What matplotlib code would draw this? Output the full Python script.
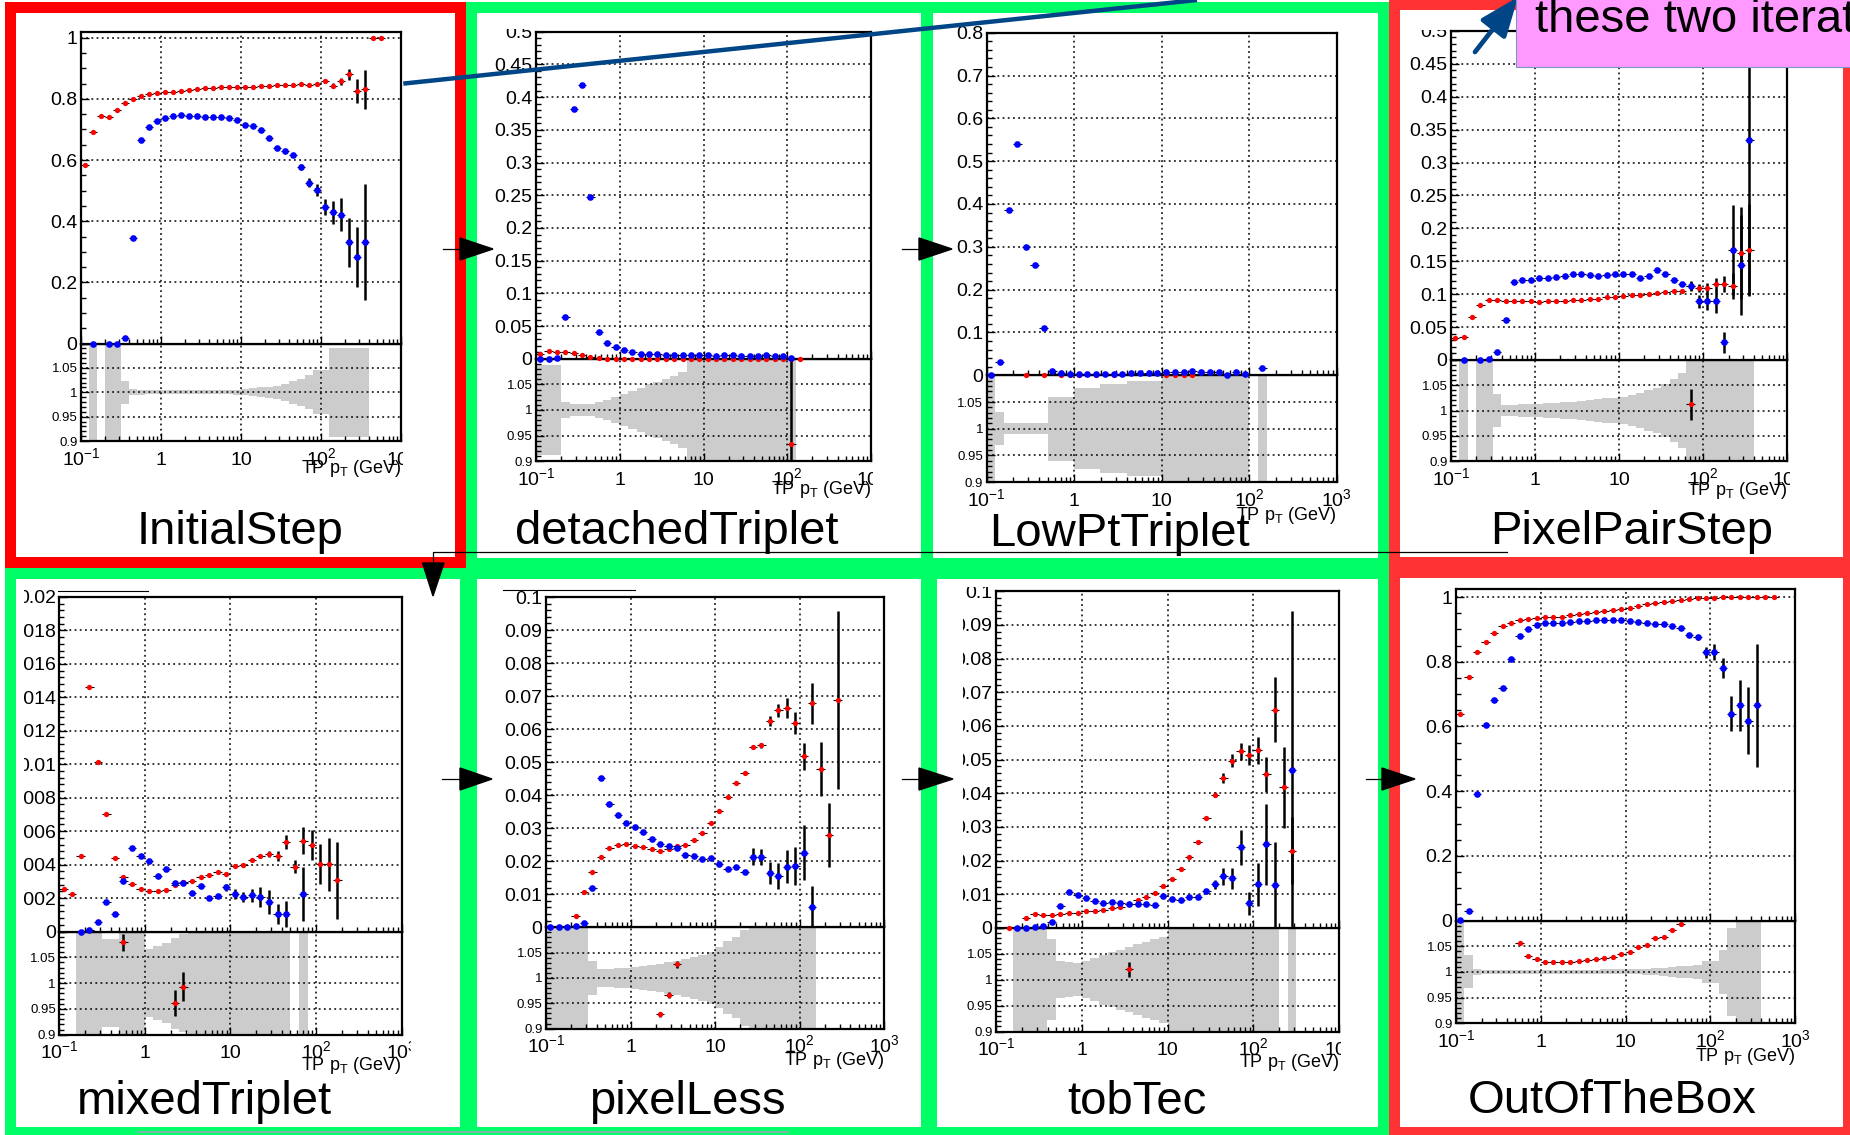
import numpy as np
import matplotlib.pyplot as plt
from matplotlib.patches import Rectangle, Polygon, FancyArrowPatch
from matplotlib.ticker import LogLocator, NullFormatter, AutoMinorLocator
from matplotlib.transforms import Bbox, TransformedBbox

plt.rcParams['font.family'] = ['Liberation Sans', 'DejaVu Sans']
plt.rcParams['mathtext.fontset'] = 'custom'
plt.rcParams['mathtext.rm'] = 'Liberation Sans'
plt.rcParams['mathtext.it'] = 'Liberation Sans:italic'
plt.rcParams['mathtext.bf'] = 'Liberation Sans:bold'

W, H = 1850, 1135
n = np.nan

# TP pT binning: 10 log bins per decade, 0.1 - 1000 GeV
EDGES = np.logspace(-1, 3, 41)
CENTERS = np.sqrt(EDGES[:-1] * EDGES[1:])

# ---------------- InitialStep ----------------
INIT_RED = [0.585, 0.693, 0.743, 0.741, 0.763, 0.785, 0.801, 0.810, 0.816, 0.820,
            0.823, 0.824, 0.826, 0.830, 0.832, 0.835, 0.837, 0.838, 0.839, 0.840,
            0.840, 0.840, 0.842, 0.843, 0.845, 0.847, 0.844, 0.850, 0.845, 0.849,
            0.857, 0.843, 0.857, 0.880, 0.825, 0.831, 1.000, 1.000, n, n]
INIT_RED_ERR = {31: 0.008, 32: 0.01, 33: 0.018, 34: 0.04, 35: 0.065}
INIT_BLUE = [n, 0.0, n, 0.0, 0.0, 0.018, 0.345, 0.666, 0.707, 0.729,
             0.737, 0.743, 0.746, 0.744, 0.743, 0.741, 0.742, 0.741, 0.736, 0.731,
             0.716, 0.710, 0.699, 0.672, 0.641, 0.629, 0.615, 0.578, 0.526, 0.503,
             0.447, 0.429, 0.421, 0.332, 0.284, 0.332, n, n, n, n]
INIT_BLUE_ERR = {27: 0.01, 28: 0.015, 29: 0.02, 30: 0.027, 31: 0.037,
                 32: 0.054, 33: 0.08, 34: 0.098, 35: 0.19}
INIT_BAND = [n, 0.2, n, 0.2, 0.2, 0.024, 0.006, 0.005, 0.004, 0.004,
             0.004, 0.004, 0.004, 0.004, 0.004, 0.004, 0.004, 0.004, 0.004, 0.005,
             0.006, 0.008, 0.010, 0.012, 0.014, 0.018, 0.023, 0.027, 0.035, 0.045,
             0.045, 0.091, 0.091, 0.091, 0.091, 0.091, n, n, n, n]
INIT_RATIO_BINS, INIT_RATIO_VALS, INIT_RATIO_ERRS = [], [], []

# ---------------- detachedTriplet ----------------
DET_RED = [0.008, 0.012, 0.011, 0.011, 0.009, 0.006, 0.003, 0.001, 0.0, 0.0,
           0.0, 0.0, 0.0, 0.0, 0.0, 0.0, 0.0, 0.0, 0.0, 0.0,
           0.0, 0.0, 0.0, 0.0, 0.0, 0.0, 0.0, 0.0, 0.0, 0.0,
           0.0, 0.0, n, n, n, n, n, n, n, n]
DET_RED_ERR = {}
DET_BLUE = [0.0, 0.0, 0.002, 0.064, 0.381, 0.418, 0.247, 0.041, 0.024, 0.018,
            0.014, 0.011, 0.008, 0.008, 0.007, 0.006, 0.006, 0.006, 0.006, 0.006,
            0.006, 0.005, 0.006, 0.006, 0.004, 0.004, 0.005, 0.006, 0.004, 0.004,
            0.002, n, n, n, n, n, n, n, n, n]
DET_BLUE_ERR = {}
DET_BAND = [0.088, 0.088, 0.088, 0.016, 0.011, 0.011, 0.012, 0.015, 0.020, 0.026,
            0.032, 0.038, 0.044, 0.050, 0.055, 0.061, 0.067, 0.075, 0.2, 0.2,
            0.2, 0.2, 0.2, 0.2, 0.2, 0.2, 0.2, 0.2, 0.2, 0.2,
            0.2, n, n, n, n, n, n, n, n, n]
DET_RATIO_BINS, DET_RATIO_VALS, DET_RATIO_ERRS = [30], [0.933], [0.3]

# ---------------- LowPtTriplet ----------------
LOWPT_RED = [n, n, n, n, 0.0, n, 0.0, n, 0.0, 0.0,
             0.0, n, 0.0, n, 0.0, n, n, n, n, n,
             0.0, 0.0, 0.0, 0.0, n, n, n, n, n, n,
             n, n, n, n, n, n, n, n, n, n]
LOWPT_RED_ERR = {}
LOWPT_BLUE = [0.0, 0.03, 0.387, 0.54, 0.299, 0.258, 0.11, 0.011, 0.006, 0.004,
              0.0034, 0.004, 0.004, 0.004, 0.004, 0.004, 0.006, 0.006, 0.006, 0.006,
              0.007, 0.007, 0.007, 0.009, 0.007, 0.007, 0.0085, 0.0, 0.0085, 0.004,
              n, 0.017, n, n, n, n, n, n, n, n]
LOWPT_BLUE_ERR = {31: 0.004}
LOWPT_BAND = [0.2, 0.031, 0.010, 0.010, 0.010, 0.010, 0.010, 0.060, 0.060, 0.060,
              0.076, 0.076, 0.076, 0.083, 0.083, 0.083, 0.089, 0.089, 0.089, 0.089,
              0.2, 0.2, 0.2, 0.2, 0.2, 0.2, 0.2, 0.2, 0.2, 0.2,
              n, 0.2, n, n, n, n, n, n, n, n]
LOWPT_RATIO_BINS, LOWPT_RATIO_VALS, LOWPT_RATIO_ERRS = [], [], []

# ---------------- PixelPairStep ----------------
PAIR_RED = [0.034, 0.035, 0.066, 0.083, 0.091, 0.091, 0.089, 0.089, 0.089, 0.089,
            0.088, 0.089, 0.0895, 0.0895, 0.0906, 0.091, 0.093, 0.093, 0.095, 0.096,
            0.097, 0.099, 0.099, 0.101, 0.102, 0.104, 0.105, 0.105, 0.112, 0.109,
            0.109, 0.115, 0.115, 0.112, 0.162, 0.167, n, n, n, n]
PAIR_RED_ERR = {28: 0.007, 29: 0.006, 30: 0.008, 31: 0.01, 32: 0.012,
                33: 0.02, 34: 0.07, 35: 0.07}
PAIR_BLUE = [n, 0.0, n, 0.0, 0.001, 0.012, 0.061, 0.118, 0.122, 0.122,
             0.125, 0.125, 0.126, 0.128, 0.130, 0.131, 0.129, 0.127, 0.129, 0.131,
             0.130, 0.130, 0.125, 0.128, 0.136, 0.131, 0.121, 0.115, 0.113, 0.0895,
             0.089, 0.089, 0.027, 0.167, 0.144, 0.334, n, n, n, n]
PAIR_BLUE_ERR = {28: 0.007, 29: 0.01, 30: 0.013, 31: 0.018, 32: 0.016,
                 33: 0.068, 34: 0.076, 35: 0.235}
PAIR_BAND = [n, 0.2, n, 0.2, 0.2, 0.032, 0.011, 0.011, 0.012, 0.012,
             0.013, 0.014, 0.015, 0.016, 0.017, 0.018, 0.020, 0.022, 0.024, 0.025,
             0.027, 0.030, 0.035, 0.040, 0.045, 0.052, 0.062, 0.075, 0.2, 0.2,
             0.2, 0.2, 0.2, 0.2, 0.2, 0.2, n, n, n, n]
PAIR_RATIO_BINS, PAIR_RATIO_VALS, PAIR_RATIO_ERRS = [28], [1.012], [0.03]

# ---------------- mixedTriplet ----------------
MIXED_RED = [0.00257, 0.00222, 0.0045, 0.01463, 0.01015, 0.0070, 0.00439, 0.00328, 0.00285, 0.00254,
             0.00241, 0.00241, 0.00248, 0.00278, 0.00296, 0.00302, 0.00326, 0.00339, 0.00354, 0.00346,
             0.00391, 0.00396, 0.00428, 0.0045, 0.00463, 0.00452, 0.00535, 0.00387, 0.00543, 0.00517,
             0.00402, 0.00402, 0.00307, n, n, n, n, n, n, n]
MIXED_RED_ERR = {24: 0.0002, 25: 0.0003, 26: 0.0004, 27: 0.0004, 28: 0.0008,
                 29: 0.0009, 30: 0.0012, 31: 0.0016, 32: 0.0023}
MIXED_BLUE = [n, n, 0.0, 0.0001, 0.00059, 0.00174, 0.00104, 0.00304, 0.00498, 0.00452,
              0.00424, 0.00333, 0.00376, 0.00287, 0.00289, 0.00228, 0.0027, 0.00202, 0.00215, 0.00265,
              0.00224, 0.00209, 0.00217, 0.00209, 0.00176, 0.00104, 0.00104, n, 0.00224, n,
              n, n, n, n, n, n, n, n, n, n]
MIXED_BLUE_ERR = {19: 0.0002, 20: 0.0003, 21: 0.0003, 22: 0.0004, 23: 0.0006,
                  24: 0.0007, 25: 0.0006, 26: 0.0008, 28: 0.0016}
MIXED_BAND = [n, n, 0.2, 0.2, 0.2, 0.085, 0.085, 0.2, 0.2, 0.2,
              0.066, 0.072, 0.078, 0.088, 0.095, 0.2, 0.2, 0.2, 0.2, 0.2,
              0.2, 0.2, 0.2, 0.2, 0.2, 0.2, 0.2, n, 0.2, n,
              n, n, n, n, n, n, n, n, n, n]
MIXED_RATIO_BINS, MIXED_RATIO_VALS, MIXED_RATIO_ERRS = [7, 13, 14], [1.079, 0.961, 0.9935], [0.016, 0.025, 0.028]

# ---------------- pixelLess ----------------
PXLESS_RED = [0.0, 0.0, 0.0, 0.0033, 0.0106, 0.0166, 0.0213, 0.0241, 0.0248, 0.0252,
              0.0246, 0.0244, 0.0238, 0.0232, 0.0237, 0.0246, 0.0249, 0.0265, 0.0285, 0.0316,
              0.0352, 0.0395, 0.0437, 0.0468, 0.0547, 0.0551, 0.0625, 0.0657, 0.0663, 0.0618,
              0.0518, 0.0678, 0.0479, 0.0279, 0.0689, n, n, n, n, n]
PXLESS_RED_ERR = {24: 0.0006, 25: 0.0008, 26: 0.0015, 27: 0.002, 28: 0.003, 29: 0.0033,
                  30: 0.0041, 31: 0.0063, 32: 0.0082, 33: 0.0097, 34: 0.027}
PXLESS_BLUE = [0.0, 0.0, 0.0, 0.0004, 0.0014, 0.0119, 0.0453, 0.0372, 0.0339, 0.0316,
               0.0304, 0.0287, 0.0266, 0.0251, 0.0246, 0.024, 0.0219, 0.0215, 0.0206, 0.021,
               0.019, 0.0175, 0.0181, 0.0167, 0.0214, 0.0212, 0.0164, 0.0155, 0.0183, 0.0185,
               0.0226, 0.0062, n, n, n, n, n, n, n, n]
PXLESS_BLUE_ERR = {24: 0.0025, 25: 0.0025, 26: 0.0033, 27: 0.0039, 28: 0.005,
                   29: 0.0058, 30: 0.0084, 31: 0.0063}
PXLESS_BAND = [0.2, 0.2, 0.2, 0.2, 0.2, 0.033, 0.017, 0.018, 0.019, 0.020,
               0.021, 0.023, 0.025, 0.028, 0.031, 0.034, 0.037, 0.041, 0.046, 0.051,
               0.060, 0.072, 0.080, 0.095, 0.2, 0.2, 0.2, 0.2, 0.2, 0.2,
               0.2, 0.2, n, n, n, n, n, n, n, n]
PXLESS_RATIO_BINS, PXLESS_RATIO_VALS, PXLESS_RATIO_ERRS = [13, 14, 15], [0.928, 0.966, 1.027], [0.005, 0.006, 0.007]

# ---------------- tobTec ----------------
TOBTEC_RED = [n, 0.0, 0.0, 0.003, 0.0041, 0.0037, 0.0037, 0.0041, 0.0043, 0.0044,
              0.0049, 0.005, 0.0054, 0.0059, 0.0063, 0.0071, 0.0082, 0.0093, 0.0103, 0.0123,
              0.0146, 0.0176, 0.0211, 0.0255, 0.0325, 0.0396, 0.0446, 0.0497, 0.0524, 0.0513,
              0.0527, 0.0456, 0.0648, 0.0417, 0.0229, n, n, n, n, n]
TOBTEC_RED_ERR = {25: 0.0008, 26: 0.0015, 27: 0.0018, 28: 0.0024, 29: 0.0029, 30: 0.004,
                  31: 0.0052, 32: 0.0096, 33: 0.0119, 34: 0.01}
TOBTEC_BLUE = [n, n, 0.0, 0.0, 0.0002, 0.0005, 0.0017, 0.0065, 0.0107, 0.0099,
               0.009, 0.0079, 0.0073, 0.0078, 0.0073, 0.007, 0.007, 0.0071, 0.0069, 0.0095,
               0.0085, 0.0082, 0.0093, 0.0091, 0.0109, 0.013, 0.0153, 0.0147, 0.0239, 0.0073,
               0.0129, 0.0248, 0.0127, n, 0.047, n, n, n, n, n]
TOBTEC_BLUE_ERR = {24: 0.0007, 25: 0.0013, 26: 0.0025, 27: 0.003, 28: 0.0051, 29: 0.0035,
                   30: 0.0065, 31: 0.012, 32: 0.0127, 34: 0.047}
TOBTEC_BAND = [n, n, 0.2, 0.2, 0.2, 0.2, 0.078, 0.036, 0.034, 0.032,
               0.036, 0.042, 0.048, 0.053, 0.058, 0.063, 0.068, 0.073, 0.078, 0.083,
               0.2, 0.2, 0.2, 0.2, 0.2, 0.2, 0.2, 0.2, 0.2, 0.2,
               0.2, 0.2, 0.2, n, 0.2, n, n, n, n, n]
TOBTEC_RATIO_BINS, TOBTEC_RATIO_VALS, TOBTEC_RATIO_ERRS = [15], [1.02], [0.015]

# ---------------- OutOfTheBox ----------------
OOTB_RED = [0.64, 0.752, 0.83, 0.861, 0.89, 0.909, 0.92, 0.928, 0.933, 0.936,
            0.937, 0.938, 0.939, 0.943, 0.946, 0.951, 0.954, 0.957, 0.961, 0.963,
            0.967, 0.973, 0.978, 0.982, 0.985, 0.989, 0.991, 0.993, 0.996, 0.996,
            0.998, 0.999, 1.0, 1.0, 1.0, 1.0, 1.0, 1.0, n, n]
OOTB_RED_ERR = {}
OOTB_BLUE = [0.003, 0.031, 0.391, 0.605, 0.682, 0.719, 0.807, 0.878, 0.902, 0.913,
             0.919, 0.92, 0.921, 0.922, 0.925, 0.927, 0.929, 0.929, 0.929, 0.93,
             0.925, 0.924, 0.921, 0.916, 0.917, 0.91, 0.903, 0.884, 0.875, 0.829,
             0.831, 0.781, 0.64, 0.666, 0.618, 0.666, n, n, n, n]
OOTB_BLUE_ERR = {27: 0.005, 28: 0.007, 29: 0.017, 30: 0.025, 31: 0.032,
                 32: 0.053, 33: 0.079, 34: 0.104, 35: 0.19}
OOTB_BAND = [0.2, 0.032, 0.006, 0.004, 0.004, 0.004, 0.004, 0.004, 0.004, 0.004,
             0.004, 0.004, 0.004, 0.004, 0.004, 0.004, 0.004, 0.005, 0.005, 0.005,
             0.005, 0.005, 0.006, 0.007, 0.008, 0.009, 0.011, 0.012, 0.014, 0.021,
             0.021, 0.043, 0.086, 0.2, 0.2, 0.2, n, n, n, n]
OOTB_RATIO_BINS = [7, 8, 9, 10, 11, 12, 13, 14, 15, 16, 17, 18, 19, 20, 21, 22, 23, 24, 25, 26]
OOTB_RATIO_VALS = [1.057, 1.031, 1.025, 1.02, 1.019, 1.019, 1.02, 1.021, 1.024, 1.025,
                   1.027, 1.03, 1.034, 1.039, 1.048, 1.053, 1.066, 1.069, 1.082, 1.093]
OOTB_RATIO_ERRS = [0.002] * 20

X_TICKS = [0.1, 1, 10, 100, 1000]
X_TICKLABELS = [r'$10^{-1}$', '1', '10', r'$10^{2}$', r'$10^{3}$']
X_TITLE = r'TP p$_{\mathrm{T}}$ (GeV)'

# layout in pixels: box = (left, top, right, main bottom, ratio bottom)
PANELS = [
    dict(title='InitialStep', red=INIT_RED, red_err=INIT_RED_ERR, blue=INIT_BLUE, blue_err=INIT_BLUE_ERR,
         band=INIT_BAND, ratio=(INIT_RATIO_BINS, INIT_RATIO_VALS, INIT_RATIO_ERRS),
         ytop=1.02, ystep=0.2, nminor=4,
         box=(81, 31.6, 401, 343.6, 441.1), clip=(0, 0, 403, 600), title_xy=(240, 544), xtitle_y=472.7),
    dict(title='detachedTriplet', red=DET_RED, red_err=DET_RED_ERR, blue=DET_BLUE, blue_err=DET_BLUE_ERR,
         band=DET_BAND, ratio=(DET_RATIO_BINS, DET_RATIO_VALS, DET_RATIO_ERRS),
         ytop=0.5, ystep=0.05, nminor=5,
         box=(536, 31.6, 871, 358.9, 461.1), clip=(480, 29, 873, 600), title_xy=(677, 544), xtitle_y=494.5),
    dict(title='LowPtTriplet', red=LOWPT_RED, red_err=LOWPT_RED_ERR, blue=LOWPT_BLUE, blue_err=LOWPT_BLUE_ERR,
         band=LOWPT_BAND, ratio=(LOWPT_RATIO_BINS, LOWPT_RATIO_VALS, LOWPT_RATIO_ERRS),
         ytop=0.8, ystep=0.1, nminor=5,
         box=(986.7, 32.7, 1336.7, 375.3, 482.2), clip=(940, 0, 1400, 600), title_xy=(1119, 546), xtitle_y=520),
    dict(title='PixelPairStep', red=PAIR_RED, red_err=PAIR_RED_ERR, blue=PAIR_BLUE, blue_err=PAIR_BLUE_ERR,
         band=PAIR_BAND, ratio=(PAIR_RATIO_BINS, PAIR_RATIO_VALS, PAIR_RATIO_ERRS),
         ytop=0.5, ystep=0.05, nminor=5,
         box=(1451, 30.9, 1787.3, 360, 461.1), clip=(1402, 30, 1790, 600), title_xy=(1632, 544), xtitle_y=495),
    dict(title='mixedTriplet', red=MIXED_RED, red_err=MIXED_RED_ERR, blue=MIXED_BLUE, blue_err=MIXED_BLUE_ERR,
         band=MIXED_BAND, ratio=(MIXED_RATIO_BINS, MIXED_RATIO_VALS, MIXED_RATIO_ERRS),
         ytop=0.02, ystep=0.002, nminor=5,
         box=(59.3, 597, 401.7, 931.5, 1034.8), clip=(24, 585, 411, 1135), title_xy=(204, 1114), xtitle_y=1069.7),
    dict(title='pixelLess', red=PXLESS_RED, red_err=PXLESS_RED_ERR, blue=PXLESS_BLUE, blue_err=PXLESS_BLUE_ERR,
         band=PXLESS_BAND, ratio=(PXLESS_RATIO_BINS, PXLESS_RATIO_VALS, PXLESS_RATIO_ERRS),
         ytop=0.1, ystep=0.01, nminor=5,
         box=(546, 597, 884, 927.2, 1028.6), clip=(490, 585, 900, 1135), title_xy=(687, 1114), xtitle_y=1065),
    dict(title='tobTec', red=TOBTEC_RED, red_err=TOBTEC_RED_ERR, blue=TOBTEC_BLUE, blue_err=TOBTEC_BLUE_ERR,
         band=TOBTEC_BAND, ratio=(TOBTEC_RATIO_BINS, TOBTEC_RATIO_VALS, TOBTEC_RATIO_ERRS),
         ytop=0.1, ystep=0.01, nminor=5,
         box=(996, 591.2, 1339.3, 927.9, 1031.5), clip=(963, 587, 1341, 1135), title_xy=(1137, 1114), xtitle_y=1066.8),
    dict(title='OutOfTheBox', red=OOTB_RED, red_err=OOTB_RED_ERR, blue=OOTB_BLUE, blue_err=OOTB_BLUE_ERR,
         band=OOTB_BAND, ratio=(OOTB_RATIO_BINS, OOTB_RATIO_VALS, OOTB_RATIO_ERRS),
         ytop=1.026, ystep=0.2, nminor=4,
         box=(1456, 588.6, 1795, 920.6, 1023.2), clip=(1400, 575, 1850, 1135), title_xy=(1612, 1113), xtitle_y=1061.4),
]

# slide frames: outer box in pixels and colour
FRAMES = [
    ((465, 1.5, 931, 568), '#00ff66'), ((921, 1.5, 1388, 568), '#00ff66'),
    ((4, 567, 470, 1137), '#00ff66'), ((465, 567, 931, 1137), '#00ff66'),
    ((925, 567, 1388, 1137), '#00ff66'),
    ((4, 1.5, 465, 567), '#ff0000'), ((1388, -2, 1853, 567), '#ff3333'),
    ((1388, 566, 1853, 1137), '#ff3333'),
]

RED, BLUE, BAND_GREY = '#ff0000', '#0000ff', '#cccccc'
GRID_STYLE = dict(color='k', linestyle=(0, (1.2, 2.2)), linewidth=1.1)


def px_rect(l, t, r, b):
    return [l / W, 1 - b / H, (r - l) / W, (b - t) / H]


def style_axes(ax):
    ax.set_xscale('log')
    ax.set_xlim(0.1, 1000)
    ax.set_xticks(X_TICKS, X_TICKLABELS)
    ax.xaxis.set_minor_locator(LogLocator(base=10, subs=np.arange(2, 10), numticks=20))
    ax.xaxis.set_minor_formatter(NullFormatter())
    ax.tick_params(which='both', direction='in', top=False, right=False, width=1.0)
    ax.tick_params(which='major', length=6)
    ax.tick_params(which='minor', length=3.5)
    ax.grid(True, which='major', **GRID_STYLE)
    ax.set_axisbelow(False)
    for s in ax.spines.values():
        s.set_linewidth(1.6)


def draw_points(ax, x, y, xlo, xhi, yerr_idx, yerr, color, ms):
    ax.errorbar(x, y, xerr=[x - xlo, xhi - x], fmt='none', ecolor='k', elinewidth=0.8, zorder=3)
    if len(yerr_idx):
        ax.errorbar(x[yerr_idx], y[yerr_idx], yerr=yerr, fmt='none', ecolor='k',
                    elinewidth=1.8, zorder=3)
    ax.plot(x, y, 'o', ms=ms, color=color, mew=0, zorder=4, clip_on=False)


def draw_series(ax, vals, errs, color, ms):
    v = np.asarray(vals, dtype=float)
    ok = ~np.isnan(v)
    idx = np.flatnonzero(ok)
    pos = {b: k for k, b in enumerate(idx)}
    e_idx = np.array([pos[b] for b in errs], dtype=int)
    draw_points(ax, CENTERS[ok], v[ok], EDGES[:-1][ok], EDGES[1:][ok],
                e_idx, list(errs.values()), color, ms)


fig = plt.figure(figsize=(W / 100, H / 100), dpi=100)

bg = fig.add_axes([0, 0, 1, 1], zorder=-1)
bg.set_xlim(0, W)
bg.set_ylim(H, 0)
bg.axis('off')
for (x0, y0, x1, y1), c in FRAMES:
    t = 11
    bg.add_patch(Rectangle((x0 + t / 2, y0 + t / 2), x1 - x0 - t, y1 - y0 - t, fill=False,
                           ec=c, lw=t * 0.72, joinstyle='miter'))

ov = fig.add_axes([0, 0, 1, 1], zorder=10)
ov.set_xlim(0, W)
ov.set_ylim(H, 0)
ov.axis('off')

clip_jobs = []
for p in PANELS:
    l, t, r, mb, rb = p['box']
    ax_r = fig.add_axes(px_rect(l, mb, r, rb), zorder=0)
    ax_m = fig.add_axes(px_rect(l, t, r, mb), zorder=1)

    # main efficiency/fake-rate panel
    style_axes(ax_m)
    ax_m.tick_params(axis='x', labelbottom=False)
    ax_m.set_ylim(0, p['ytop'])
    yt = np.arange(0, p['ytop'] + 1e-9, p['ystep'])
    ax_m.set_yticks(yt, [f'{round(v, 6):g}' for v in yt])
    ax_m.yaxis.set_minor_locator(AutoMinorLocator(p['nminor']))
    ax_m.tick_params(axis='y', labelsize=14, pad=2.5)
    draw_series(ax_m, p['red'], p['red_err'], RED, 3.8)
    draw_series(ax_m, p['blue'], p['blue_err'], BLUE, 4.8)

    # ratio panel with statistical band
    style_axes(ax_r)
    ax_r.set_ylim(0.9, 1.1)
    ax_r.set_yticks([0.9, 0.95, 1.0, 1.05], ['0.9', '0.95', '1', '1.05'])
    ax_r.yaxis.set_minor_locator(AutoMinorLocator(5))
    ax_r.tick_params(axis='y', labelsize=9.5, pad=2.5)
    ax_r.tick_params(axis='x', labelsize=14, pad=17)
    band = np.asarray(p['band'], dtype=float)
    ok = ~np.isnan(band)
    ax_r.bar(EDGES[:-1][ok], 2 * band[ok], width=(EDGES[1:] - EDGES[:-1])[ok],
             bottom=1 - band[ok], align='edge', color=BAND_GREY, linewidth=0, zorder=1)
    bins, rv, re = p['ratio']
    if bins:
        b = np.array(bins)
        draw_points(ax_r, CENTERS[b], np.array(rv), EDGES[:-1][b], EDGES[1:][b],
                    np.arange(len(b)), re, RED, 3.8)
    for lab in ax_r.get_xticklabels():
        lab.set_va('baseline')

    ov.text(r, p['xtitle_y'], X_TITLE, fontsize=13, ha='right', va='baseline')
    ov.text(*p['title_xy'], p['title'], fontsize=34, ha='center', va='baseline')
    clip_jobs.append((ax_m, ax_r, p['clip']))

# tick labels are cut where the plot images were cropped
for ax_m, ax_r, (cx0, cy0, cx1, cy1) in clip_jobs:
    box = TransformedBbox(Bbox.from_extents(cx0 / W, 1 - cy1 / H, cx1 / W, 1 - cy0 / H), fig.transFigure)
    for lab in ax_m.get_yticklabels() + ax_r.get_yticklabels() + ax_r.get_xticklabels():
        lab.set_clip_box(box)
        lab.set_clip_on(True)

# flow arrows between iterations
def right_arrow(x0, xb, xt, y):
    ov.plot([x0, xb], [y, y], color='k', lw=0.9)
    ov.add_patch(Polygon([(xb, y - 11), (xb, y + 11), (xt, y)], closed=True, color='k'))

right_arrow(443, 460, 493, 249)
right_arrow(902, 919, 952, 249)
right_arrow(442, 460, 492, 779)
right_arrow(902, 919, 953, 779)
right_arrow(1366, 1382, 1415, 779)
ov.plot([1507, 433, 433], [552, 552, 563], color='k', lw=0.9)
ov.add_patch(Polygon([(422.5, 563), (444, 563), (433, 596)], closed=True, color='k'))

# leftover lines on the slide
ov.plot([58, 148], [590.5, 590.5], color='k', lw=0.8)
ov.plot([503, 635], [589.5, 589.5], color='k', lw=0.8)
ov.plot([138, 788], [1132, 1132], color='#9aa3b5', lw=1.2)

# callout
ov.plot([403.3, 1197], [83.6, 0], color='#004586', lw=3.2, solid_capstyle='butt')
ov.add_patch(FancyArrowPatch((1475, 52), (1518, -3),
                             arrowstyle='-|>,head_length=0.6,head_width=0.24',
                             mutation_scale=40, lw=3.4, color='#004586', shrinkA=0, shrinkB=0))
ov.add_patch(Rectangle((1515.7, -10), 400, 76.7, fc='#ff99ff', ec='#7f95c8', lw=0.8))
ov.text(1535, 32.5, 'these two iterations', fontsize=34, ha='left', va='baseline')

fig.savefig('out.png', dpi=100)
